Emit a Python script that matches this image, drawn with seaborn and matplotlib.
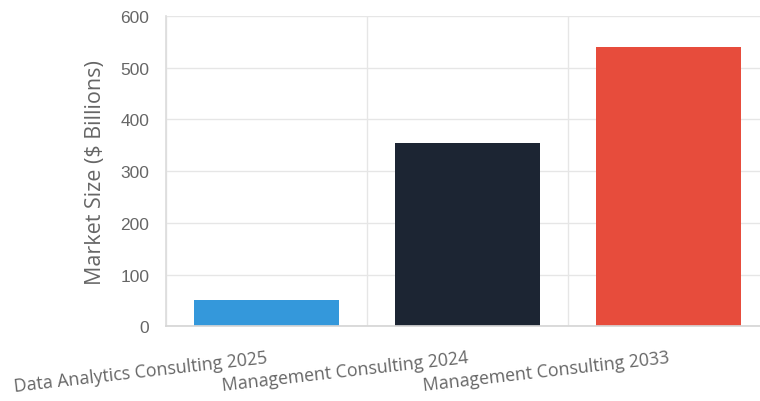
import matplotlib
matplotlib.use("Agg")
import matplotlib.pyplot as plt
import seaborn as sns
import pandas as pd
from matplotlib.ticker import FixedLocator

categories = ["Data Analytics Consulting 2025", "Management Consulting 2024", "Management Consulting 2033"]
values = [50, 354, 541]
colors = ["#3498db", "#1c2533", "#e74c3c"]
yticks = [0, 100, 200, 300, 400, 500, 600]

sns.set_theme(style="white")
df = pd.DataFrame({"category": categories, "value": values})

fig = plt.figure(figsize=(7.6, 4.02), dpi=100)
ax = fig.add_axes([166/760, 74.7/402, 603/760, 310.3/402])

sns.barplot(data=df, x="category", y="value", hue="category", palette=colors,
            legend=False, width=0.72, saturation=1, ax=ax, edgecolor="none")

ax.set_xlim(-0.5, 2.5)
ax.set_ylim(0, 600)
ax.set_yticks(yticks)
ax.set_yticklabels([str(v) for v in yticks], fontsize=12.5, color="#666666",
                   family=["Liberation Sans", "DejaVu Sans"])
ax.tick_params(axis="y", length=8, color="#e3e3e3", width=1, pad=4)

ax.set_xticks([0, 1, 2])
ax.set_xticklabels(categories, rotation=6.5, ha="right", rotation_mode="anchor",
                   fontsize=12.8, color="#666666", family=["Open Sans", "DejaVu Sans"])
ax.tick_params(axis="x", which="major", length=0, pad=16)
ax.xaxis.set_minor_locator(FixedLocator([-0.5, 0.5, 1.5, 2.5]))
ax.tick_params(axis="x", which="minor", length=9, color="#e3e3e3", width=1)

ax.grid(axis="y", color="#e6e6e6", linewidth=1)
ax.grid(axis="x", which="minor", color="#e6e6e6", linewidth=1)
ax.set_axisbelow(True)

for s in ["top", "right"]:
    ax.spines[s].set_visible(False)
ax.spines["left"].set_color("#dddddd")
ax.spines["bottom"].set_color("#d6d6d6")

ax.set_xlabel("")
ax.set_ylabel("Market Size ($ Billions)", fontsize=15.5, color="#666666",
              family=["Open Sans", "DejaVu Sans"], labelpad=10)

fig.savefig("out.png", dpi=100)
